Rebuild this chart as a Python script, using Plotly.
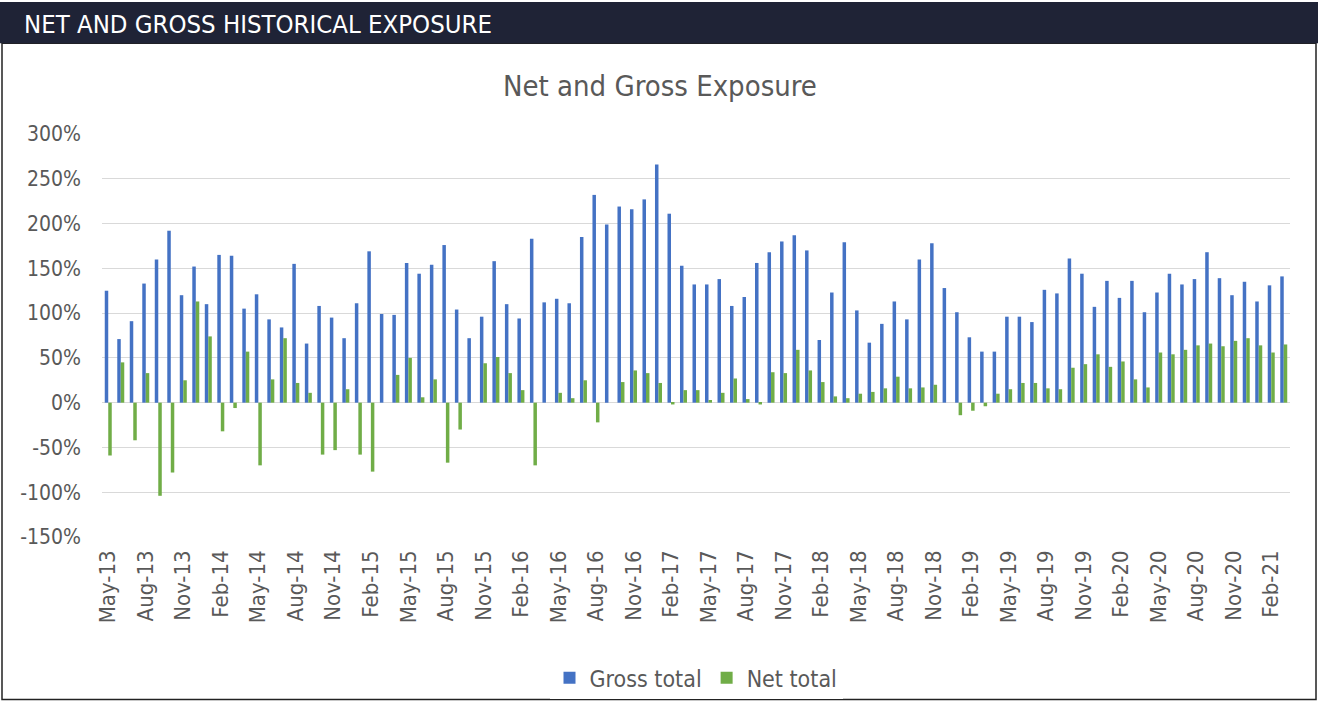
import pandas as pd
import plotly.graph_objects as go

months = list(pd.date_range("2013-05-01", periods=95, freq="MS").strftime("%b-%y"))

gross_total = [125, 71, 91, 133, 160, 192, 120, 152, 110, 165, 164, 105, 121,
               93, 84, 155, 66, 108, 95, 72, 111, 169, 99, 98, 156, 144,
               154, 176, 104, 72, 96, 158, 110, 94, 183, 112, 116, 111,
               185, 232, 199, 219, 216, 227, 266, 211, 153, 132, 132, 138, 108,
               118, 156, 168, 180, 187, 170, 70, 123, 179, 103, 67, 88, 113,
               93, 160, 178, 128, 101, 73, 57, 57, 96, 96, 90, 126, 122,
               161, 144, 107, 136, 117, 136, 101, 123, 144, 132, 138, 168, 139,
               120, 135, 113, 131, 141]

net_total = [-59, 45, -42, 33, -104, -78, 25, 113, 74, -32, -6, 57, -70,
             26, 72, 22, 11, -58, -53, 15, -58, -77, 0, 31, 50, 6,
             26, -67, -30, 0, 44, 51, 33, 14, -70, 0, 11, 5,
             25, -22, 0, 23, 36, 33, 22, -2, 14, 14, 3, 11, 27,
             4, -2, 34, 33, 59, 36, 23, 7, 5, 10, 12, 16, 29,
             16, 17, 20, 0, -14, -9, -4, 10, 15, 22, 22, 16, 15,
             39, 43, 54, 40, 46, 26, 17, 56, 54, 59, 64, 66, 63,
             69, 72, 64, 56, 65]

y_ticks = [-150, -100, -50, 0, 50, 100, 150, 200, 250, 300]
y_labels = [f"{v}%" for v in y_ticks]
x_tick_labels = months[::3]

FONT = "DejaVu Sans Condensed"
GREY = "#595959"

W, H = 1318, 712
ML, MR, MT, MB = 102, 28, 134, 169
PW, PH = W - ML - MR, H - MT - MB


def px_x(x):
    return (x - ML) / PW


def px_y(y):
    return (H - MB - y) / PH


fig = go.Figure()
fig.add_trace(go.Bar(name="Gross total", x=months, y=gross_total,
                     marker=dict(color="#4472C4", line=dict(width=0))))
fig.add_trace(go.Bar(name="Net total", x=months, y=net_total,
                     marker=dict(color="#70AD47", line=dict(width=0))))

fig.update_layout(
    width=W, height=H,
    paper_bgcolor="white", plot_bgcolor="white",
    barmode="group", bargap=0.44, bargroupgap=0.0,
    margin=dict(l=ML, r=MR, t=MT, b=MB),
    font=dict(family=FONT, color=GREY),
    showlegend=True,
    legend=dict(orientation="h", x=0.5, xanchor="center", y=px_y(686),
                yanchor="middle", font=dict(size=23, color=GREY),
                traceorder="normal"),
    xaxis=dict(type="category", tickmode="array", tickvals=x_tick_labels,
               ticktext=x_tick_labels, tickangle=-90, tickfont=dict(size=22, color=GREY),
               showgrid=False, showline=False, ticks="", zeroline=False,
               ticklabelstandoff=8),
    yaxis=dict(range=[-150, 300], tickmode="array", tickvals=y_ticks, ticktext=y_labels,
               tickfont=dict(size=21, color=GREY), showgrid=True, gridcolor="#d9d9d9",
               gridwidth=1.3, zeroline=True, zerolinecolor="#d9d9d9", zerolinewidth=1.3,
               showline=False, ticks="", ticklabelstandoff=20),
)

# header band and frame
fig.add_shape(type="rect", xref="paper", yref="paper", x0=px_x(0), x1=px_x(W),
              y0=px_y(42), y1=px_y(0),
              fillcolor="#1f2336", line=dict(width=0), layer="above")
fig.add_shape(type="rect", xref="paper", yref="paper",
              x0=px_x(2), x1=px_x(1316), y0=px_y(708), y1=px_y(42),
              fillcolor="rgba(0,0,0,0)", line=dict(color="#222222", width=1.5), layer="below")

fig.add_annotation(text="NET AND GROSS HISTORICAL EXPOSURE", xref="paper", yref="paper",
                   x=px_x(22), y=px_y(22), xanchor="left", yanchor="middle",
                   showarrow=False, font=dict(family=FONT, size=25.5, color="white"))
fig.add_annotation(text="Net and Gross Exposure", xref="paper", yref="paper",
                   x=px_x(660), y=px_y(85), xanchor="center", yanchor="middle",
                   showarrow=False, font=dict(family=FONT, size=29, color=GREY))

fig.write_html("out.html", config={"displayModeBar": False},
               post_script="document.body.style.margin='0';")
